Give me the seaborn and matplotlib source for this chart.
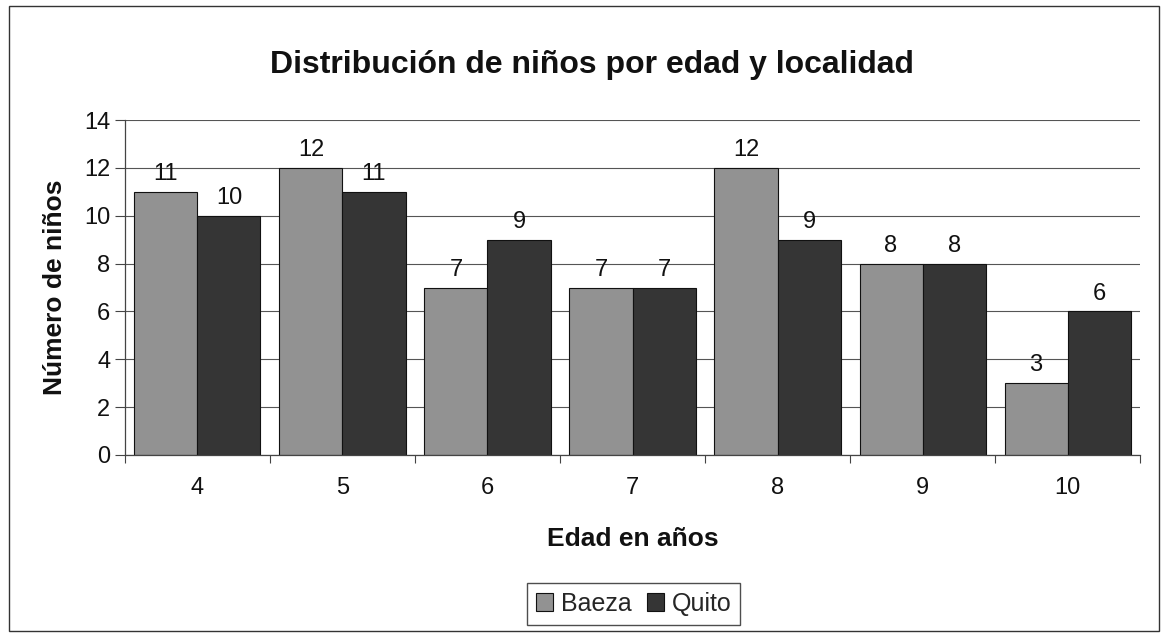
import matplotlib
matplotlib.use("Agg")
import matplotlib.pyplot as plt
import seaborn as sns
import pandas as pd
from matplotlib.patches import Rectangle
from matplotlib.ticker import MultipleLocator, FixedLocator

edades = ["4", "5", "6", "7", "8", "9", "10"]
baeza = [11, 12, 7, 7, 12, 8, 3]
quito = [10, 11, 9, 7, 9, 8, 6]
series = ["Baeza", "Quito"]
colores = ["#929292", "#353535"]

df = pd.DataFrame({
    "Edad": edades * 2,
    "Valor": baeza + quito,
    "Localidad": ["Baeza"] * len(edades) + ["Quito"] * len(edades),
})

sns.set_theme(style="white")
plt.rcParams["font.family"] = ["Liberation Sans", "DejaVu Sans"]

fig = plt.figure(figsize=(11.67, 6.39), dpi=100)
ax = fig.add_axes([0.107, 0.288, 0.870, 0.524])

sns.barplot(data=df, x="Edad", y="Valor", hue="Localidad", order=edades,
            hue_order=series, palette=colores, width=0.87, gap=0,
            edgecolor="#111111", linewidth=0.8, saturation=1, ax=ax, legend=True)

for cont in ax.containers:
    ax.bar_label(cont, labels=[f"{int(v)}" for v in cont.datavalues],
                 padding=5, fontsize=17, color="#111111")

ax.set_ylim(0, 14)
ax.set_xlim(-0.5, len(edades) - 0.5)
ax.yaxis.set_major_locator(MultipleLocator(2))
ax.yaxis.grid(True, color="#555555", linewidth=0.8)
ax.set_axisbelow(True)
ax.xaxis.set_minor_locator(FixedLocator([i + 0.5 for i in range(-1, len(edades))]))
ax.tick_params(axis="x", which="major", length=0, labelsize=17, pad=16, colors="#111111")
ax.tick_params(axis="x", which="minor", length=6, width=0.8, direction="out", color="#444444", bottom=True)
ax.tick_params(axis="y", which="major", length=7, width=0.8, direction="out", left=True,
               labelsize=17, color="#444444", labelcolor="#111111")
for s in ["top", "right"]:
    ax.spines[s].set_visible(False)
for s in ["left", "bottom"]:
    ax.spines[s].set_color("#444444")
    ax.spines[s].set_linewidth(0.9)

ax.set_xlabel("Edad en años", fontsize=19, fontweight="bold", labelpad=20, color="#111111")
ax.set_ylabel("Número de niños", fontsize=19, fontweight="bold", labelpad=12, color="#111111")
fig.text(0.507, 0.898, "Distribución de niños por edad y localidad", ha="center", va="center",
         fontsize=23, fontweight="bold", color="#111111")

ax.legend_.remove()
handles = [Rectangle((0, 0), 1, 1, facecolor=c, edgecolor="#111111", linewidth=0.8) for c in colores]
fig.legend(handles, series, loc="center", bbox_to_anchor=(0.543, 0.055), ncol=2,
           fontsize=18, frameon=True, fancybox=False, edgecolor="#222222",
           handlelength=0.7, handleheight=0.7, handletextpad=0.3, columnspacing=0.6,
           borderpad=0.35)

fig.patches.append(Rectangle((0.008, 0.012), 0.985, 0.978, transform=fig.transFigure,
                             fill=False, edgecolor="#333333", linewidth=1.0))

fig.savefig("out.png", dpi=100)
